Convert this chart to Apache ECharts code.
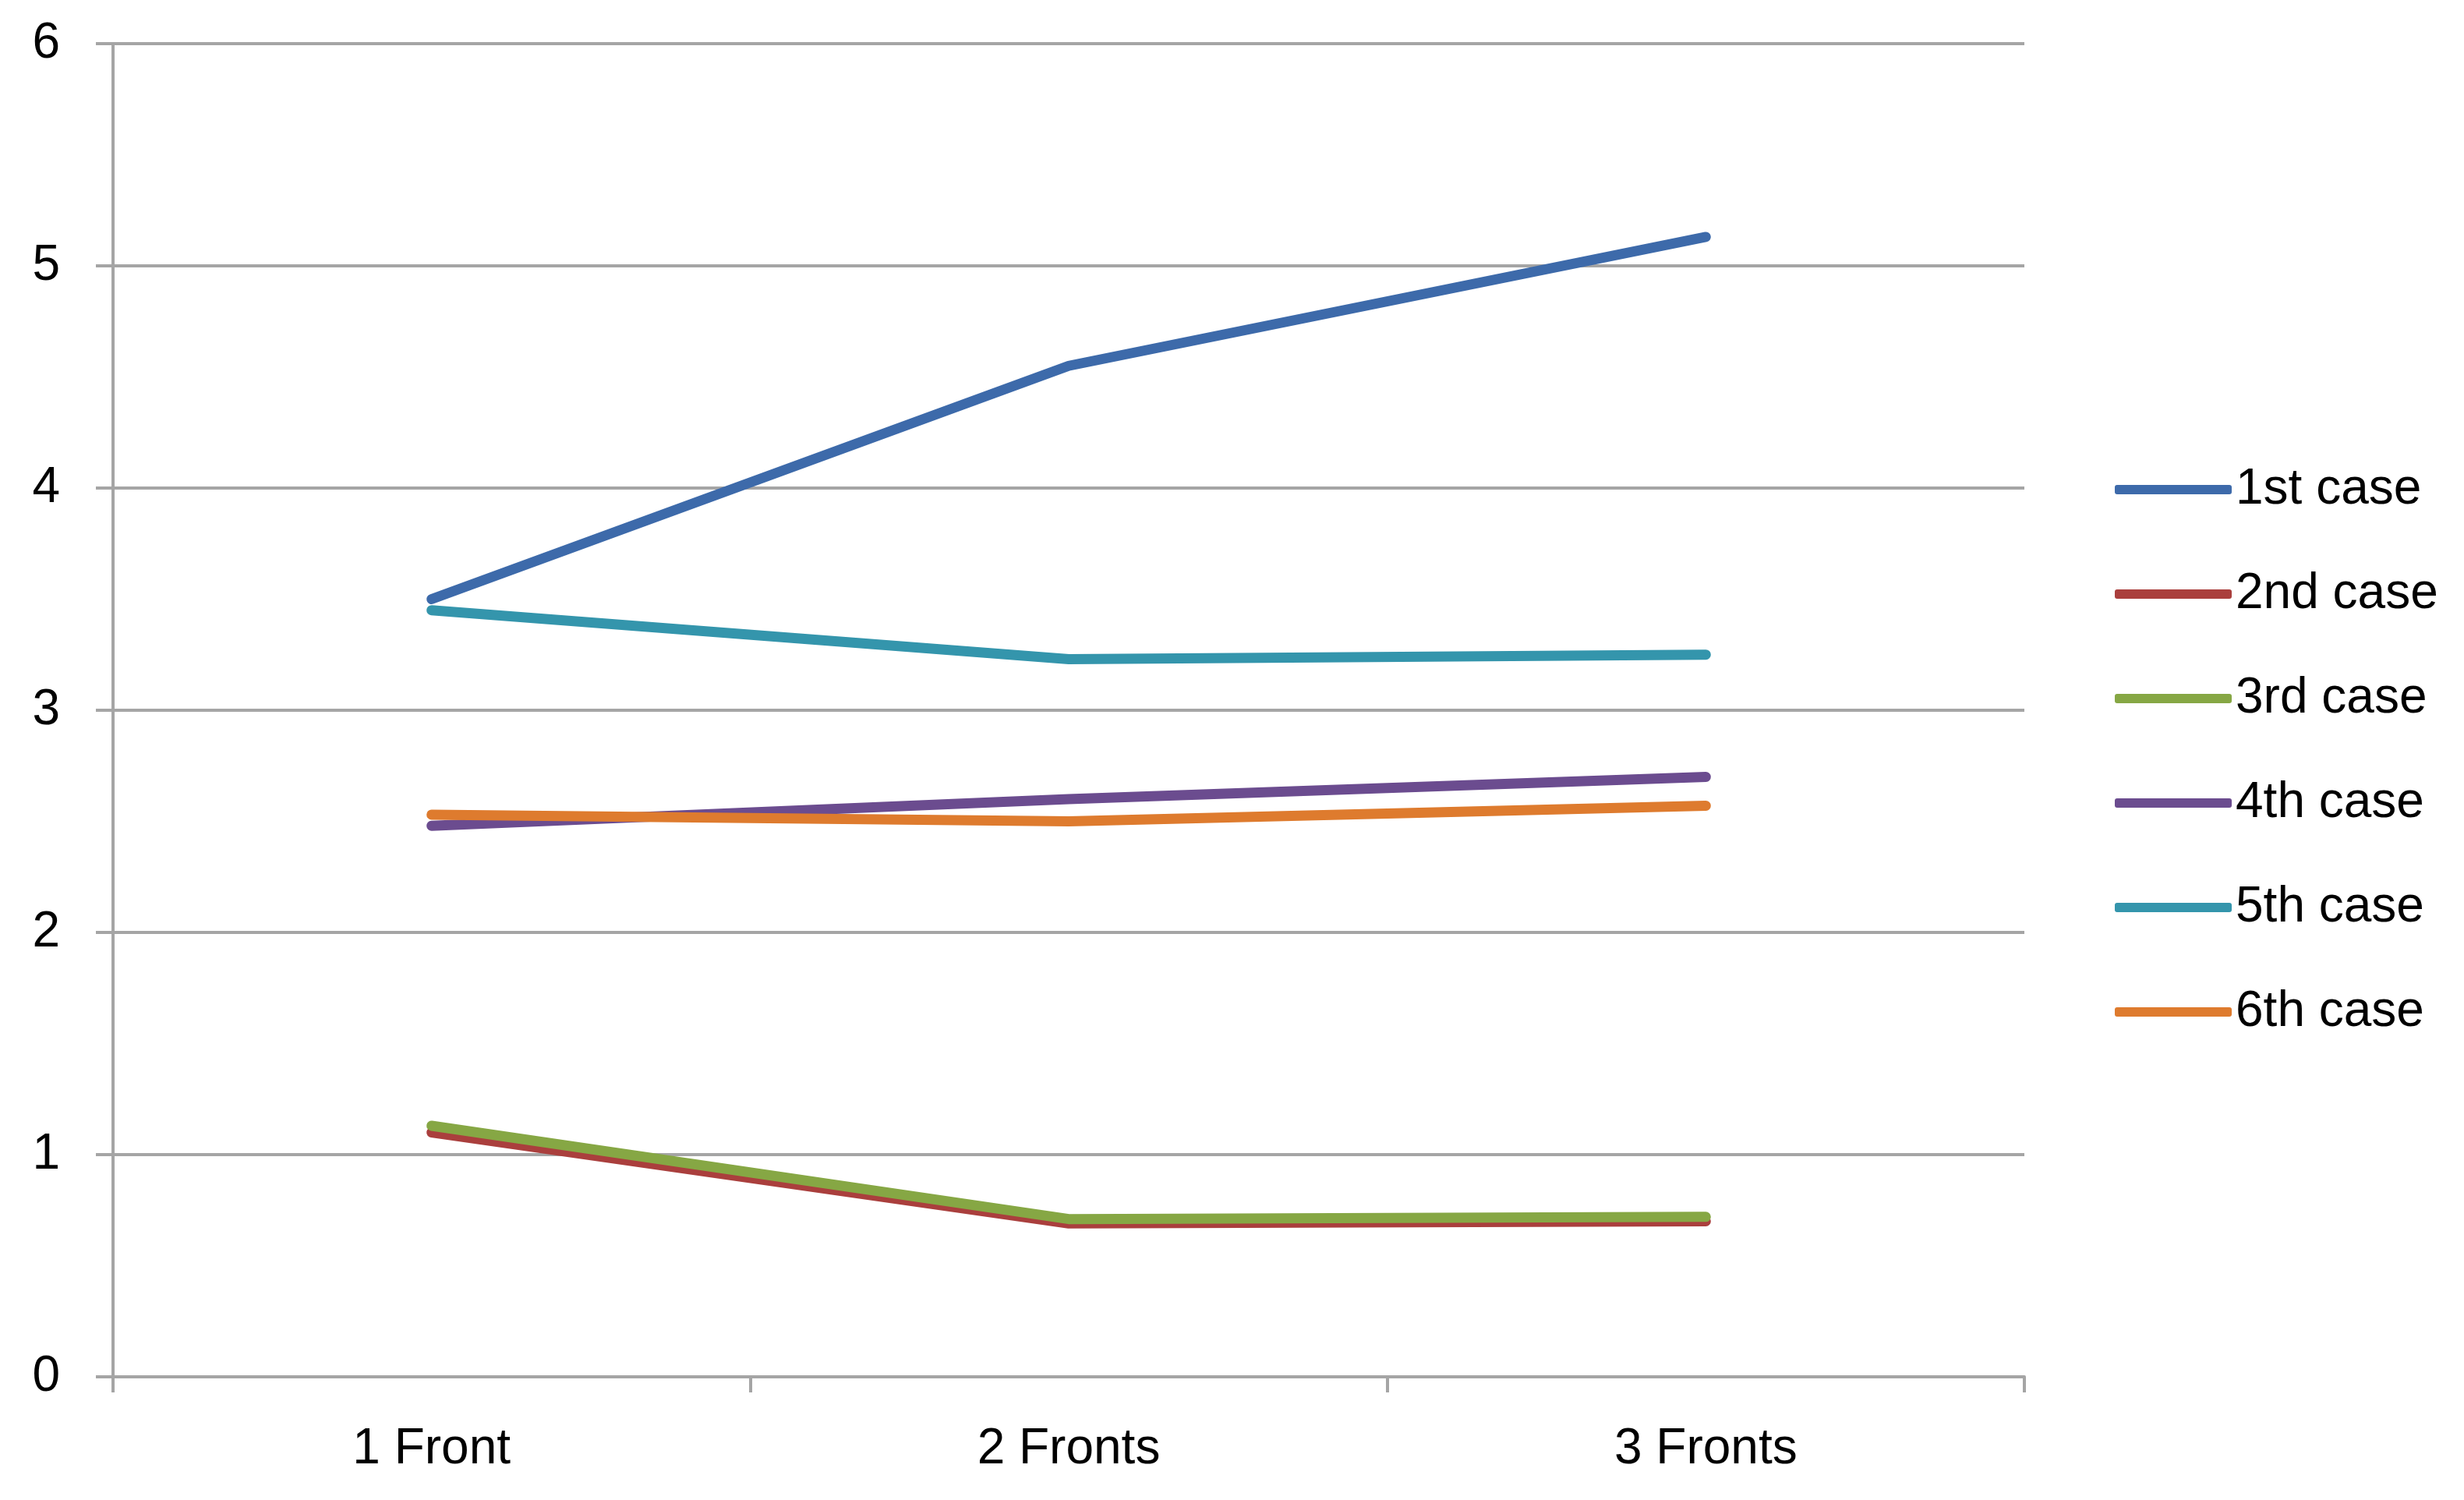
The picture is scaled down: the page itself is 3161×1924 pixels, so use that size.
<!DOCTYPE html>
<html>
<head>
<meta charset="utf-8">
<script src="https://cdn.jsdelivr.net/npm/echarts@6/dist/echarts.min.js"></script>
<style>
html,body{margin:0;padding:0;background:#fff;}
#chart{width:3161px;height:1924px;}
</style>
</head>
<body>
<div id="chart"></div>
<script>
var categories = ['1 Front', '2 Fronts', '3 Fronts'];
var seriesNames = ['1st case', '2nd case', '3rd case', '4th case', '5th case', '6th case'];
var case1 = [3.50, 4.55, 5.13];
var case2 = [1.10, 0.69, 0.70];
var case3 = [1.13, 0.71, 0.72];
var case4 = [2.48, 2.60, 2.70];
var case5 = [3.45, 3.23, 3.25];
var case6 = [2.53, 2.50, 2.57];
var colors = ['#3D6AAA', '#AA3F3D', '#86A744', '#6B4C8F', '#3495AC', '#DE7B2E'];
var yTicks = [0, 1, 2, 3, 4, 5, 6];

var allData = [case1, case2, case3, case4, case5, case6];
var chart = echarts.init(document.getElementById('chart'), null, {renderer: 'canvas'});
var gridColor = '#A5A5A5';
var font = "'Liberation Sans', Arial, sans-serif";

var option = {
  animation: false,
  backgroundColor: '#ffffff',
  color: colors,
  grid: {left: 145, right: 564, top: 56, bottom: 158, containLabel: false},
  legend: {
    orient: 'vertical',
    left: 2708,
    top: 588,
    itemWidth: 150,
    itemHeight: 12,
    itemGap: 64,
    icon: 'roundRect',
    textStyle: {fontFamily: font, fontSize: 64, color: '#000', lineHeight: 70, padding: [0,0,0,0]},
    data: seriesNames
  },
  xAxis: {
    type: 'category',
    data: categories,
    boundaryGap: true,
    axisLine: {show: true, lineStyle: {color: gridColor, width: 4}},
    axisTick: {show: true, length: 20, alignWithLabel: false, lineStyle: {color: gridColor, width: 4}},
    axisLabel: {fontFamily: font, fontSize: 64, color: '#000', margin: 61},
    splitLine: {show: false}
  },
  yAxis: {
    type: 'value',
    min: yTicks[0],
    max: yTicks[yTicks.length - 1],
    interval: 1,
    axisLine: {show: true, lineStyle: {color: gridColor, width: 4}},
    axisTick: {show: true, length: 22, lineStyle: {color: gridColor, width: 4}},
    axisLabel: {fontFamily: font, fontSize: 64, color: '#000', margin: 68},
    splitLine: {show: true, lineStyle: {color: gridColor, width: 4}}
  },
  series: seriesNames.map(function (name, i) {
    return {
      name: name,
      type: 'line',
      data: allData[i],
      symbol: 'none',
      showSymbol: false,
      lineStyle: {width: 13, color: colors[i], cap: 'round', join: 'round'},
      itemStyle: {color: colors[i]}
    };
  })
};
chart.setOption(option);
</script>
</body>
</html>
